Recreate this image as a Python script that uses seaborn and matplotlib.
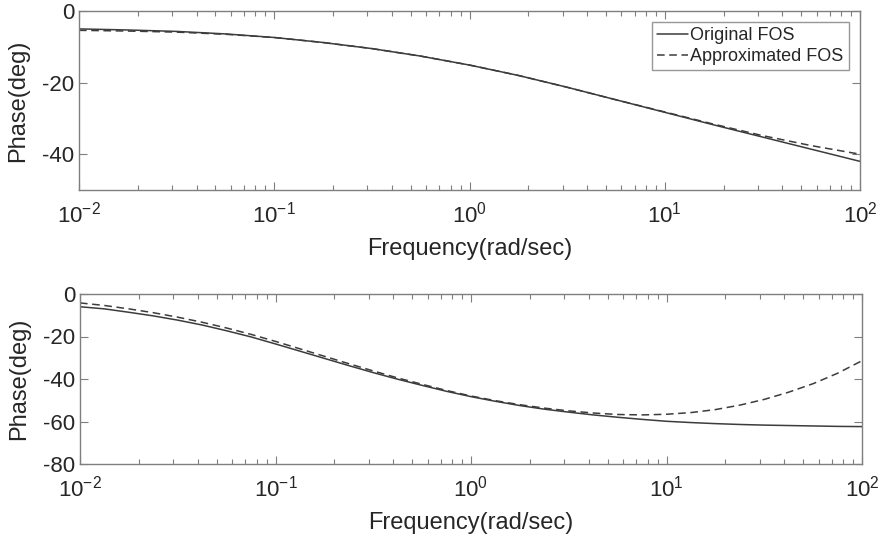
import numpy as np
import pandas as pd
import matplotlib
matplotlib.use("Agg")
import matplotlib.pyplot as plt
import seaborn as sns

# ---- data ----
top_log_freq = [-2.0, -1.75, -1.5, -1.25, -1.0, -0.75, -0.5, -0.25, 0.0,
                0.25, 0.5, 0.75, 1.0, 1.25, 1.5, 1.75, 2.0]
top_original = [-5.0, -5.3, -5.7, -6.4, -7.4, -8.8, -10.5, -12.6, -15.1,
                -18.0, -21.3, -24.8, -28.3, -31.8, -35.2, -38.6, -42.0]
top_approx = [-5.4, -5.6, -5.9, -6.5, -7.4, -8.8, -10.5, -12.6, -15.1,
              -18.0, -21.3, -24.8, -28.2, -31.6, -34.8, -37.6, -40.0]

bot_log_freq = [-2.0, -1.875, -1.75, -1.625, -1.5, -1.375, -1.25, -1.125,
                -1.0, -0.875, -0.75, -0.625, -0.5, -0.375, -0.25, -0.125,
                0.0, 0.125, 0.25, 0.375, 0.5, 0.625, 0.75, 0.875,
                1.0, 1.125, 1.25, 1.375, 1.5, 1.625, 1.75, 1.875, 2.0]
bot_original = [-6.0, -7.0, -8.6, -10.3, -12.3, -14.6, -17.3, -20.2,
                -23.5, -26.9, -30.3, -33.7, -37.0, -40.1, -43.0, -45.8,
                -48.3, -50.5, -52.5, -54.2, -55.6, -56.9, -58.0, -59.0,
                -59.9, -60.5, -61.0, -61.4, -61.7, -61.9, -62.1, -62.3, -62.4]
bot_approx = [-4.2, -5.4, -7.0, -8.8, -10.9, -13.3, -16.0, -19.0,
              -22.3, -25.8, -29.3, -32.8, -36.2, -39.5, -42.5, -45.4,
              -48.0, -50.2, -52.1, -53.7, -55.0, -56.0, -56.7, -56.9,
              -56.6, -55.8, -54.4, -52.3, -49.6, -46.2, -42.2, -37.3, -31.4]

series_names = ["Original FOS", "Approximated FOS"]
top_yticks = [0, -20, -40]
bot_yticks = [0, -20, -40, -60, -80]

sns.set_theme(style="ticks")
plt.rcParams["font.family"] = ["Liberation Sans", "DejaVu Sans"]
plt.rcParams["mathtext.fontset"] = "custom"
plt.rcParams["mathtext.rm"] = "Liberation Sans"
plt.rcParams["mathtext.it"] = "Liberation Sans"
plt.rcParams["axes.unicode_minus"] = False

text_col = "#262626"
spine_col = "#7f7f7f"
line_col = "#3c3c3c"

fig = plt.figure(figsize=(8.84, 5.39), dpi=100)
ax1 = fig.add_axes([79 / 884, 1 - 190 / 539, (860 - 79) / 884, (190 - 11) / 539])
ax2 = fig.add_axes([80 / 884, 1 - 464 / 539, (862 - 80) / 884, (464 - 294) / 539])


def make_df(logf, orig, approx):
    f = [10.0 ** v for v in logf]
    return pd.DataFrame({
        "freq": f * 2,
        "phase": list(orig) + list(approx),
        "series": [series_names[0]] * len(f) + [series_names[1]] * len(f),
    })


for ax, logf, orig, approx, ylim, yt, legend in [
    (ax1, top_log_freq, top_original, top_approx, (-50, 0), top_yticks, True),
    (ax2, bot_log_freq, bot_original, bot_approx, (-80, 0), bot_yticks, False),
]:
    df = make_df(logf, orig, approx)
    sns.lineplot(data=df, x="freq", y="phase", hue="series", style="series",
                 palette=[line_col, line_col], dashes=[(None, None), (5, 3)],
                 linewidth=1.1, ax=ax, legend=legend, sort=False)
    ax.set_xscale("log")
    ax.set_xlim(1e-2, 1e2)
    ax.set_ylim(*ylim)
    ax.set_yticks(yt)
    ax.set_xlabel("Frequency(rad/sec)", fontsize=17, color=text_col, labelpad=8)
    ax.set_ylabel("Phase(deg)", fontsize=17, color=text_col, labelpad=9)
    ax.tick_params(axis="both", which="both", direction="in", top=True, right=True,
                   colors=spine_col, labelcolor=text_col, labelsize=16)
    ax.tick_params(axis="both", which="major", length=6, width=0.8)
    ax.tick_params(axis="x", which="minor", length=3.5, width=0.8)
    ax.tick_params(axis="x", which="major", pad=8)
    for s in ax.spines.values():
        s.set_color(spine_col)
        s.set_linewidth(1.0)

leg = ax1.legend(loc="upper right", fontsize=13, frameon=True, fancybox=False,
                 borderpad=0.3, handlelength=1.7, handletextpad=0.15,
                 labelspacing=0.2, borderaxespad=0.6)
leg.get_frame().set_edgecolor(spine_col)
leg.get_frame().set_linewidth(1.0)
for t in leg.get_texts():
    t.set_color(text_col)

fig.savefig("out.png", dpi=100)
